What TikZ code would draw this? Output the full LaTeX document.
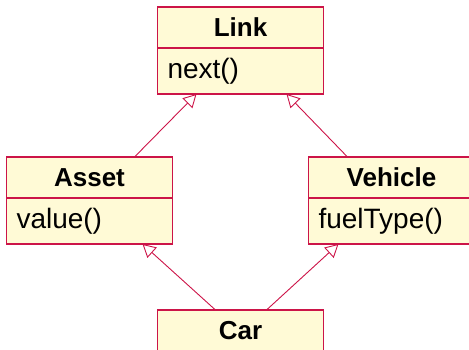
\documentclass[tikz,border=0pt]{standalone}
\usepackage{fontspec}
\setmainfont{Liberation Sans}
\usetikzlibrary{arrows.meta, positioning}

\definecolor{borde}{RGB}{204,20,72}
\definecolor{relleno}{RGB}{255,250,214}

\begin{document}
\begin{tikzpicture}[auto, x=1pt, y=1pt, >={Triangle[open, length=13pt, width=14pt]}]
        % Estilos para las clases y la herencia
        \tikzstyle{titulo} = [draw=borde, fill=relleno, line width=1.2pt, rectangle, outer sep=0pt, minimum width=166pt, minimum height=41pt, inner sep=0pt, font=\fontsize{26}{30}\selectfont\bfseries]
        \tikzstyle{metodos} = [draw=borde, fill=relleno, line width=1.2pt, rectangle, outer sep=0pt, minimum height=46pt, inner xsep=10pt, inner ysep=0pt, text width=146pt, align=left, font=\fontsize{28}{32}\selectfont]
        \tikzstyle{herencia} = [draw=borde, line width=0.9pt, ->]

        \useasboundingbox (0,0) rectangle (469,-350);

        % Nodes
        \node [titulo] at (240.5,-27.5) (link) {Link};
        \node [metodos, below=0pt of link] (linkOps) {next()};
        \node [titulo, on grid, below left=150pt and 151pt of link] (asset) {Asset};
        \node [metodos, below=0pt of asset] (assetOps) {value()};
        \node [titulo, on grid, below right=150pt and 151pt of link] (vehicle) {Vehicle};
        \node [metodos, below=0pt of vehicle] (vehicleOps) {fuelType()};
        \node [titulo, on grid, below=303pt of link] (car) {Car};

        % Lines
        \draw [herencia] ([xshift=45pt]asset.north) -- ([xshift=-44pt]linkOps.south);
        \draw [herencia] ([xshift=-44pt]vehicle.north) -- ([xshift=46pt]linkOps.south);
        \draw [herencia] ([xshift=-25pt]car.north) -- ([xshift=53pt]assetOps.south);
        \draw [herencia] ([xshift=26pt]car.north) -- ([xshift=-53pt]vehicleOps.south);

\end{tikzpicture}
\end{document}
